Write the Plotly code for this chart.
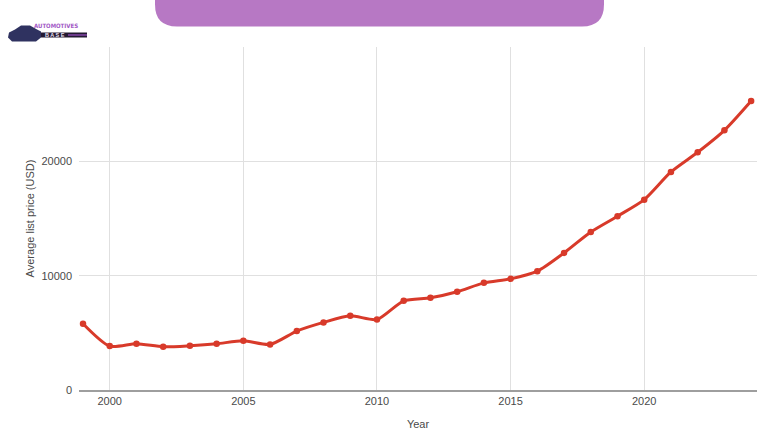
import plotly.graph_objects as go

years = list(range(1999, 2025))
avg_price = [5800, 3840, 4050, 3780, 3870, 4040, 4310, 3990, 5150, 5910,
             6490, 6170, 7800, 8060, 8590, 9370, 9720, 10390, 11990, 13820,
             15200, 16650, 19070, 20790, 22710, 25270]
x_ticks = [2000, 2005, 2010, 2015, 2020]
y_ticks = [0, 10000, 20000, 30000]
y_tick_text = ["0", "10000", "20000", ""]

W, H = 780, 440
L, R, T, B = 79, 23, 46.5, 50
PW, PH = W - L - R, H - T - B


def px(xp):
    return (xp - L) / PW


def py(yp):
    return (H - B - yp) / PH


fig = go.Figure()
fig.add_trace(go.Scatter(
    x=years, y=avg_price, mode="lines+markers",
    line=dict(color="#d83a2a", width=3, shape="spline", smoothing=0.7),
    marker=dict(color="#d83a2a", size=6.5),
    hoverinfo="x+y", showlegend=False,
))

# Purple banner with rounded bottom corners
x0, x1, y0, y1, r = 155, 604, -5, 26, 22
banner = (f"M {px(x0)},{py(y0)} L {px(x0)},{py(y1 - r)} "
          f"Q {px(x0)},{py(y1)} {px(x0 + r)},{py(y1)} "
          f"L {px(x1 - r)},{py(y1)} Q {px(x1)},{py(y1)} {px(x1)},{py(y1 - r)} "
          f"L {px(x1)},{py(y0)} Z")
shapes = [dict(type="path", path=banner, xref="paper", yref="paper",
               fillcolor="#b778c4", line=dict(width=0), layer="above")]

# Logo: simple car silhouette and BASE bar
car = (f"M {px(8)},{py(37)} L {px(9)},{py(32)} L {px(15)},{py(29)} L {px(21)},{py(25)} "
       f"L {px(30)},{py(25)} L {px(37)},{py(29)} L {px(41)},{py(31)} L {px(41)},{py(37)} "
       f"L {px(36)},{py(41)} L {px(12)},{py(41)} Z")
shapes.append(dict(type="path", path=car, xref="paper", yref="paper",
                   fillcolor="#2f3260", line=dict(width=0), layer="above"))
shapes.append(dict(type="rect", xref="paper", yref="paper",
                   x0=px(41), x1=px(87), y0=py(37), y1=py(32),
                   fillcolor="#241a33", line=dict(width=0), layer="above"))
shapes.append(dict(type="rect", xref="paper", yref="paper",
                   x0=px(68), x1=px(87), y0=py(35.5), y1=py(33.5),
                   fillcolor="#6b3a8a", line=dict(width=0), layer="above"))

annotations = [
    dict(text="<b>AUTOMOTIVES</b>", x=px(32), y=py(24.5), xref="paper", yref="paper",
         xanchor="left", yanchor="middle", showarrow=False,
         font=dict(family="Liberation Sans Narrow, DejaVu Sans Condensed, Liberation Sans", size=6, color="#a259c6")),
    dict(text="<b>B A S E</b>", x=px(43), y=py(34.5), xref="paper", yref="paper",
         xanchor="left", yanchor="middle", showarrow=False,
         font=dict(family="Liberation Sans, Arial", size=5.5, color="#e8e0f0")),
]

fig.update_layout(
    width=W, height=H,
    margin=dict(l=L, r=R, t=T, b=B, pad=0, autoexpand=False),
    paper_bgcolor="white", plot_bgcolor="white",
    font=dict(family="Liberation Sans, Arial, sans-serif", size=11, color="#4a4a4a"),
    shapes=shapes, annotations=annotations,
    xaxis=dict(
        range=[1998.85, 2024.22], tickvals=x_ticks, ticktext=[str(v) for v in x_ticks],
        showgrid=True, gridcolor="#e0e0e0", gridwidth=1,
        showline=True, linecolor="#9e9e9e", linewidth=1.5,
        zeroline=False, ticks="", ticklabelstandoff=0, automargin=False,
        title=dict(text="Year", font=dict(size=11, color="#4a4a4a"), standoff=14),
    ),
    yaxis=dict(
        range=[0, 30000], tickvals=y_ticks, ticktext=y_tick_text,
        showgrid=True, gridcolor="#e0e0e0", gridwidth=1,
        zeroline=False, showline=False, ticks="", ticklabelstandoff=6, automargin=False,
        title=dict(text="Average list price (USD)", font=dict(size=11, color="#4a4a4a"), standoff=4),
    ),
)

fig.write_html("out.html")
